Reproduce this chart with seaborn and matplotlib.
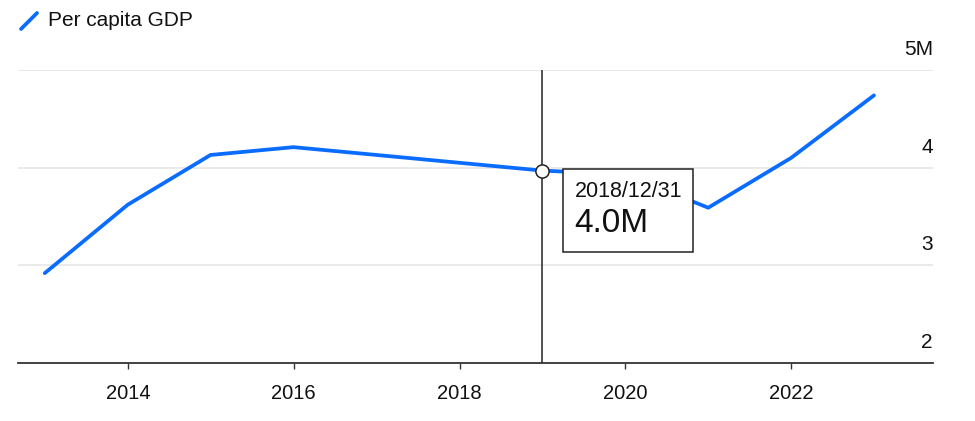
import matplotlib
matplotlib.use("Agg")
import matplotlib.pyplot as plt
import matplotlib.transforms as mtransforms
from matplotlib.lines import Line2D
from matplotlib.patches import Rectangle
import matplotlib.dates as mdates
import seaborn as sns
import pandas as pd

# year-end observations, values in millions
dates = ["2012-12-31", "2013-12-31", "2014-12-31", "2015-12-31", "2016-12-31",
         "2017-12-31", "2018-12-31", "2019-12-31", "2020-12-31", "2021-12-31",
         "2022-12-31"]
gdp = [2.92, 3.62, 4.13, 4.21, 4.13, 4.05, 3.97, 3.93, 3.59, 4.10, 4.74]
y_ticks = [2, 3, 4, 5]
y_tick_labels = ["2", "3", "4", "5M"]
x_tick_years = [2014, 2016, 2018, 2020, 2022]
highlight = "2018-12-31"
series_name = "Per capita GDP"

BLUE = "#0a6cff"

sns.set_theme(style="white")
plt.rcParams["font.family"] = ["Liberation Sans", "DejaVu Sans"]

df = pd.DataFrame({"date": pd.to_datetime(dates), "gdp": gdp})

fig = plt.figure(figsize=(9.75, 4.21), dpi=100)
ax = fig.add_axes([18 / 975, 1 - 363 / 421, (933 - 18) / 975, (363 - 70) / 421])

sns.lineplot(data=df, x="date", y="gdp", ax=ax, color=BLUE, linewidth=2.7,
             solid_capstyle="round", solid_joinstyle="round", zorder=3)

ax.set_xlim(pd.Timestamp("2012-09-04"), pd.Timestamp("2023-09-17"))
ax.set_ylim(y_ticks[0], y_ticks[-1])

# grid lines (except baseline)
for v in y_ticks[1:]:
    ax.axhline(v, color="#e6e6e6", lw=1.2, zorder=1)

for s in ["top", "right", "left"]:
    ax.spines[s].set_visible(False)
ax.spines["bottom"].set_color("#333333")
ax.spines["bottom"].set_linewidth(1.3)

ax.set_xticks([pd.Timestamp(f"{y}-01-01") for y in x_tick_years])
ax.xaxis.set_major_formatter(mdates.DateFormatter("%Y"))
ax.tick_params(axis="x", bottom=True, length=4, width=1, color="#333333",
               pad=11, labelsize=14.5, labelcolor="#111111")
ax.set_yticks([])
ax.set_xlabel("")
ax.set_ylabel("")

# y labels at the right, above each line
lab_tr = mtransforms.offset_copy(ax.get_yaxis_transform(), fig=fig, x=0, y=11, units="dots")
for v, lab in zip(y_ticks, y_tick_labels):
    ax.text(1.0, v, lab, transform=lab_tr, ha="right", va="bottom",
            fontsize=15, color="#111111", clip_on=False)

# hover crosshair and tooltip
hx = pd.Timestamp(highlight)
hy = df.loc[df["date"] == hx, "gdp"].iloc[0]
ax.axvline(hx, color="#222222", lw=1.1, zorder=4)
ax.plot([hx], [hy], marker="o", ms=9.5, mfc="white", mec="#222222", mew=1.1, zorder=5)

fig.canvas.draw()
px, py = ax.transData.transform((mdates.date2num(hx), hy))
box_tr = mtransforms.Affine2D().translate(px, py)
fig.add_artist(Rectangle((21, -81), 130, 83, transform=box_tr, facecolor="white",
                         edgecolor="#222222", lw=1.1, zorder=6))
fig.text(33, -21, hx.strftime("%Y/%m/%d"), transform=box_tr, ha="left", va="center",
         fontsize=15.5, color="#111111", zorder=7)
fig.text(32, -53, f"{hy:.1f}M", transform=box_tr, ha="left", va="center",
         fontsize=24, color="#111111", zorder=7)

# legend
fig.add_artist(Line2D([21 / 975, 37 / 975], [1 - 29 / 421, 1 - 13 / 421], color=BLUE,
                      lw=2.7, solid_capstyle="round", transform=fig.transFigure))
fig.text(48 / 975, 1 - 21 / 421, series_name, ha="left", va="center",
         fontsize=15, color="#111111")

fig.savefig("out.png", dpi=100)
